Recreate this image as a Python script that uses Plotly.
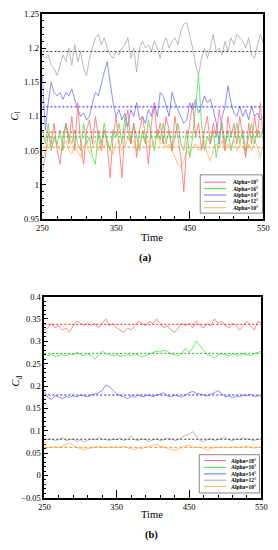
import plotly.graph_objects as go

W, H = 278, 550

LABELS = ["Alpha=18°", "Alpha=16°", "Alpha=14°", "Alpha=12°", "Alpha=10°"]
LINE_COLORS = ["#ff6f6f", "#4fe04f", "#7070ff", "#a8a8a8", "#ffb266"]
MEAN_COLORS = ["#ff2020", "#10c010", "#2020ff", "#404040", "#ff9020"]
MEAN_DASH = ["2px,2px", "2px,2px", "2px,2px", "2px,2px", "3px,2px"]

# ---------------- panel (a): lift coefficient ----------------
TIME_A = list(range(250, 551, 4))
CL_18 = [1.02, 1.04, 1.075, 1.06, 1.09, 1.05, 1.03, 1.07, 1.09, 1.06, 1.1, 1.05, 1.12, 1.06, 1.03, 1.08,
         1.095, 1.06, 1.1, 1.07, 1.05, 1.08, 1.06, 1.01, 1.07, 1.1, 1.06, 1.01, 1.08, 1.11, 1.06, 1.09,
         1.04, 1.08, 1.1, 1.07, 1.03, 1.09, 1.115, 1.07, 1.09, 1.06, 1.1, 1.08, 1.05, 1.1, 1.07, 1.04,
         0.99, 1.06, 1.09, 1.12, 1.07, 1.09, 1.05, 1.08, 1.1, 1.06, 1.09, 1.07, 1.11, 1.08, 1.05, 1.1,
         1.07, 1.09, 1.06, 1.1, 1.07, 1.04, 1.09, 1.06, 1.1, 1.07, 1.12, 1.06]
CL_16 = [1.08, 1.06, 1.09, 1.05, 1.07, 1.06, 1.08, 1.05, 1.09, 1.07, 1.06, 1.08, 1.06, 1.05, 1.09, 1.06,
         1.07, 1.04, 1.03, 1.08, 1.06, 1.09, 1.065, 1.05, 1.08, 1.07, 1.09, 1.06, 1.1, 1.08, 1.06, 1.09,
         1.07, 1.05, 1.08, 1.06, 1.095, 1.07, 1.05, 1.08, 1.065, 1.09, 1.06, 1.08, 1.05, 1.07, 1.09, 1.06,
         1.05, 1.08, 1.04, 1.07, 1.12, 1.16, 1.09, 1.05, 1.07, 1.06, 1.08, 1.04, 1.07, 1.09, 1.06, 1.08,
         1.05, 1.07, 1.09, 1.06, 1.08, 1.05, 1.07, 1.09, 1.06, 1.08, 1.07, 1.085]
CL_14 = [1.16, 1.08, 1.12, 1.15, 1.135, 1.13, 1.135, 1.125, 1.135, 1.13, 1.14, 1.125, 1.11, 1.1, 1.105, 1.095,
         1.1, 1.12, 1.135, 1.13, 1.15, 1.165, 1.18, 1.15, 1.12, 1.1, 1.11, 1.095, 1.105, 1.085, 1.11, 1.1,
         1.12, 1.095, 1.1, 1.09, 1.11, 1.1, 1.12, 1.1, 1.135, 1.13, 1.115, 1.1, 1.135, 1.12, 1.11, 1.1,
         1.09, 1.095, 1.12, 1.11, 1.125, 1.105, 1.115, 1.13, 1.12, 1.125, 1.11, 1.09, 1.06, 1.1, 1.115, 1.145,
         1.12, 1.105, 1.1, 1.115, 1.1, 1.11, 1.095, 1.115, 1.1, 1.105, 1.095, 1.1]
CL_12 = [1.19, 1.185, 1.19, 1.175, 1.17, 1.16, 1.175, 1.19, 1.18, 1.2, 1.175, 1.205, 1.18, 1.195, 1.17, 1.16,
         1.185, 1.2, 1.215, 1.22, 1.205, 1.215, 1.2, 1.19, 1.185, 1.195, 1.19, 1.2, 1.205, 1.215, 1.185, 1.2,
         1.165, 1.2, 1.21, 1.2, 1.205, 1.195, 1.21, 1.2, 1.185, 1.205, 1.215, 1.2, 1.21, 1.215, 1.205, 1.225,
         1.235, 1.237, 1.22, 1.2, 1.175, 1.16, 1.185, 1.2, 1.185, 1.2, 1.22, 1.195, 1.2, 1.19, 1.21, 1.195,
         1.215, 1.205, 1.22, 1.215, 1.21, 1.2, 1.215, 1.19, 1.185, 1.205, 1.22, 1.205]
CL_10 = [1.04, 1.05, 1.06, 1.055, 1.065, 1.06, 1.05, 1.055, 1.065, 1.05, 1.045, 1.06, 1.05, 1.04, 1.055, 1.06,
         1.045, 1.055, 1.065, 1.05, 1.06, 1.055, 1.065, 1.05, 1.045, 1.06, 1.065, 1.05, 1.055, 1.07, 1.06, 1.065,
         1.05, 1.06, 1.07, 1.06, 1.065, 1.055, 1.065, 1.07, 1.06, 1.065, 1.055, 1.06, 1.05, 1.04, 1.03, 1.025,
         1.035, 1.05, 1.045, 1.055, 1.06, 1.05, 1.055, 1.065, 1.045, 1.035, 1.05, 1.06, 1.055, 1.065, 1.05, 1.06,
         1.055, 1.065, 1.05, 1.06, 1.055, 1.045, 1.06, 1.05, 1.065, 1.055, 1.04, 1.06]
CL_MEANS = [1.077, 1.070, 1.114, 1.195, 1.055]

# ---------------- panel (b): drag coefficient ----------------
TIME_B = list(range(250, 551, 5))
CD_18 = [0.325, 0.33, 0.34, 0.33, 0.335, 0.325, 0.33, 0.32, 0.335, 0.345, 0.34, 0.335, 0.34, 0.335, 0.34, 0.33,
         0.34, 0.35, 0.335, 0.34, 0.33, 0.325, 0.32, 0.33, 0.325, 0.335, 0.345, 0.34, 0.335, 0.345, 0.34, 0.35,
         0.34, 0.33, 0.335, 0.325, 0.32, 0.33, 0.34, 0.335, 0.34, 0.33, 0.345, 0.335, 0.33, 0.34, 0.335, 0.35,
         0.34, 0.345, 0.335, 0.33, 0.34, 0.335, 0.325, 0.335, 0.345, 0.335, 0.325, 0.345, 0.34]
CD_16 = [0.272, 0.268, 0.27, 0.266, 0.268, 0.27, 0.268, 0.272, 0.27, 0.275, 0.27, 0.268, 0.272, 0.268, 0.26, 0.27,
         0.278, 0.272, 0.27, 0.268, 0.27, 0.266, 0.268, 0.27, 0.268, 0.272, 0.27, 0.265, 0.268, 0.272, 0.275, 0.278,
         0.276, 0.28, 0.278, 0.272, 0.27, 0.268, 0.272, 0.285, 0.275, 0.285, 0.3, 0.29, 0.28, 0.27, 0.268, 0.262,
         0.27, 0.272, 0.27, 0.268, 0.272, 0.27, 0.268, 0.272, 0.27, 0.268, 0.272, 0.275, 0.278]
CD_14 = [0.188, 0.175, 0.17, 0.178, 0.175, 0.172, 0.176, 0.175, 0.178, 0.176, 0.18, 0.178, 0.176, 0.18, 0.182, 0.185,
         0.19, 0.202, 0.198, 0.19, 0.182, 0.178, 0.176, 0.172, 0.178, 0.175, 0.18, 0.176, 0.178, 0.18, 0.176, 0.18,
         0.182, 0.185, 0.178, 0.176, 0.18, 0.178, 0.175, 0.18, 0.185, 0.188, 0.184, 0.182, 0.18, 0.178, 0.182, 0.185,
         0.19, 0.182, 0.176, 0.178, 0.174, 0.178, 0.176, 0.18, 0.178, 0.182, 0.176, 0.178, 0.178]
CD_12 = [0.082, 0.08, 0.082, 0.078, 0.08, 0.085, 0.078, 0.08, 0.082, 0.076, 0.08, 0.075, 0.078, 0.082, 0.08, 0.085,
         0.082, 0.08, 0.078, 0.082, 0.08, 0.084, 0.078, 0.082, 0.088, 0.08, 0.078, 0.082, 0.08, 0.076, 0.08, 0.082,
         0.078, 0.08, 0.084, 0.082, 0.078, 0.08, 0.085, 0.09, 0.092, 0.098, 0.088, 0.078, 0.076, 0.08, 0.082, 0.078,
         0.08, 0.082, 0.085, 0.08, 0.078, 0.082, 0.08, 0.084, 0.082, 0.08, 0.078, 0.082, 0.08]
CD_10 = [0.063, 0.062, 0.063, 0.064, 0.062, 0.066, 0.07, 0.073, 0.068, 0.063, 0.06, 0.058, 0.06, 0.062, 0.063, 0.065,
         0.063, 0.062, 0.064, 0.063, 0.062, 0.064, 0.065, 0.062, 0.06, 0.058, 0.062, 0.06, 0.063, 0.065, 0.068, 0.07,
         0.066, 0.063, 0.06, 0.058, 0.056, 0.06, 0.063, 0.066, 0.068, 0.064, 0.062, 0.063, 0.06, 0.057, 0.06, 0.063,
         0.062, 0.064, 0.063, 0.062, 0.064, 0.063, 0.062, 0.065, 0.066, 0.063, 0.061, 0.063, 0.062]
CD_MEANS = [0.338, 0.273, 0.180, 0.081, 0.063]

CL_SERIES = [CL_18, CL_16, CL_14, CL_12, CL_10]
CD_SERIES = [CD_18, CD_16, CD_14, CD_12, CD_10]

X_TICKS = [250, 350, 450, 550]
CL_RANGE = [0.95, 1.25]
CD_RANGE = [-0.05, 0.4]

FONT = "Liberation Serif, Times New Roman, serif"


def px(x):
    return x / W


def py(y):
    return 1 - y / H


fig = go.Figure()

# order drawn: gray first (back), then blue, orange, green, red on top
draw_order = [3, 2, 4, 1, 0]
for i in draw_order:
    fig.add_trace(go.Scatter(x=TIME_A, y=CL_SERIES[i], mode="lines", xaxis="x", yaxis="y",
                             line=dict(color=LINE_COLORS[i], width=0.8), showlegend=False))
for i in range(5):
    fig.add_trace(go.Scatter(x=[TIME_A[0], TIME_A[-1]], y=[CL_MEANS[i]] * 2, mode="lines", xaxis="x", yaxis="y",
                             line=dict(color=MEAN_COLORS[i], width=1, dash=MEAN_DASH[i]), showlegend=False))
for i in draw_order:
    fig.add_trace(go.Scatter(x=TIME_B, y=CD_SERIES[i], mode="lines", xaxis="x2", yaxis="y2",
                             line=dict(color=LINE_COLORS[i], width=0.8), showlegend=False))
for i in range(5):
    fig.add_trace(go.Scatter(x=[TIME_B[0], TIME_B[-1]], y=[CD_MEANS[i]] * 2, mode="lines", xaxis="x2", yaxis="y2",
                             line=dict(color=MEAN_COLORS[i], width=1, dash=MEAN_DASH[i]), showlegend=False))

tickfont = dict(family=FONT, size=8.5, color="black")


def xaxis(domain, anchor):
    return dict(domain=domain, anchor=anchor, range=[250, 550], tickmode="array", tickvals=X_TICKS,
                ticks="inside", ticklen=8, tickwidth=1, tickcolor="black", ticklabeloverflow="allow",
                minor=dict(ticks="inside", ticklen=3, tickwidth=0.6, tickcolor="black", dtick=20, tick0=250),
                showline=True, linecolor="black", linewidth=1.5, mirror=True, showgrid=False,
                zeroline=False, tickfont=tickfont)


def yaxis(domain, anchor, rng):
    return dict(domain=domain, anchor=anchor, range=rng, dtick=0.05, tick0=0,
                ticks="inside", ticklen=4, tickwidth=1, tickcolor="black", ticklabeloverflow="allow",
                minor=dict(ticks="inside", ticklen=2, tickwidth=0.6, tickcolor="black", dtick=0.01),
                showline=True, linecolor="black", linewidth=1.5, mirror=True, showgrid=False,
                zeroline=False, tickfont=tickfont)


shapes = []
annotations = []


def legend(box, y_items, line_x, text_x):
    x0, y0, x1, y1 = box
    shapes.append(dict(type="rect", xref="paper", yref="paper", x0=px(x0), x1=px(x1), y0=py(y1), y1=py(y0),
                       line=dict(color="#555555", width=0.7), fillcolor="white", layer="above"))
    for i, yy in enumerate(y_items):
        shapes.append(dict(type="line", xref="paper", yref="paper", x0=px(line_x[0]), x1=px(line_x[1]),
                           y0=py(yy), y1=py(yy), line=dict(color=LINE_COLORS[i], width=1), layer="above"))
        annotations.append(dict(text="<b>" + LABELS[i] + "</b>", xref="paper", yref="paper", x=px(text_x), y=py(yy),
                                xanchor="left", yanchor="middle", showarrow=False,
                                font=dict(family=FONT, size=5.5, color="black")))


legend((203, 173, 268, 212), [180.5, 187, 193.5, 200, 206.5], (207, 230), 235)
legend((202, 458, 265, 497), [464, 471, 477.5, 484, 490.5], (207, 230), 233)

title_font = dict(family=FONT, size=10.5, color="black")
annotations += [
    dict(text="<i>C</i><sub>l</sub>", xref="paper", yref="paper", x=px(10), y=py(113), textangle=-90,
         showarrow=False, font=title_font, xanchor="center", yanchor="middle"),
    dict(text="<i>C</i><sub>d</sub>", xref="paper", yref="paper", x=px(11), y=py(383), textangle=-90,
         showarrow=False, font=title_font, xanchor="center", yanchor="middle"),
    dict(text="Time", xref="paper", yref="paper", x=px(153), y=py(237), showarrow=False, font=title_font,
         xanchor="center", yanchor="middle"),
    dict(text="Time", xref="paper", yref="paper", x=px(153), y=py(519), showarrow=False, font=title_font,
         xanchor="center", yanchor="middle"),
    dict(text="<b>(a)</b>", xref="paper", yref="paper", x=px(146), y=py(258), showarrow=False, font=title_font,
         xanchor="center", yanchor="middle"),
    dict(text="<b>(b)</b>", xref="paper", yref="paper", x=px(152), y=py(540), showarrow=False, font=title_font,
         xanchor="center", yanchor="middle"),
]

fig.update_layout(
    width=W, height=H, margin=dict(l=0, r=0, t=0, b=0),
    paper_bgcolor="white", plot_bgcolor="white", showlegend=False,
    font=dict(family=FONT),
    xaxis=xaxis([px(38), px(269)], "y"),
    yaxis=yaxis([py(218), py(9)], "x", CL_RANGE),
    xaxis2=xaxis([px(40), px(267)], "y2"),
    yaxis2=yaxis([py(502), py(297)], "x2", CD_RANGE),
    shapes=shapes, annotations=annotations,
)

fig.write_html("out.html", config={"displayModeBar": False},
               post_script="document.body.style.margin='0px';document.body.style.overflow='hidden';")
